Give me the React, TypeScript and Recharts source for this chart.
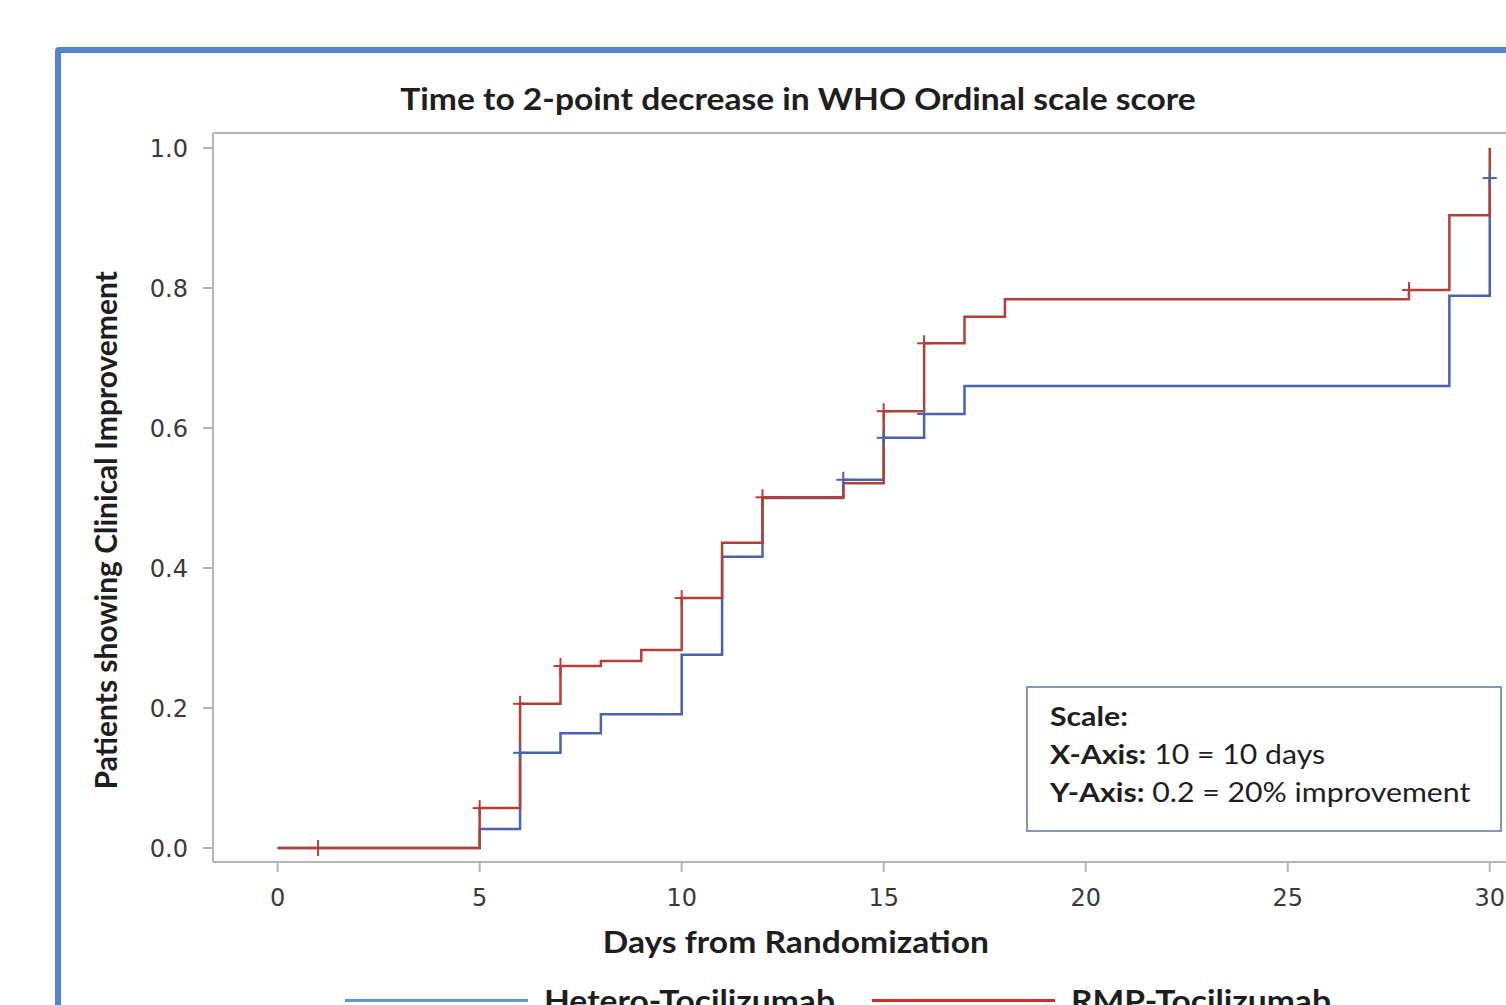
import { ComposedChart, Line, Scatter, XAxis, YAxis, Legend, Label } from "recharts";

// Kaplan-Meier style cumulative improvement
const heteroDays = [0, 5, 6, 7, 8, 10, 11, 12, 14, 15, 16, 17, 29, 30];
const heteroRates = [0, 0.027, 0.136, 0.164, 0.191, 0.276, 0.416, 0.5, 0.526, 0.586, 0.62, 0.66, 0.789, 0.957];
const heteroCensorDays = [6, 14, 15, 16, 30];

const rmpDays = [0, 5, 6, 7, 8, 9, 10, 11, 12, 14, 15, 16, 17, 18, 28, 29, 30];
const rmpRates = [0, 0.057, 0.206, 0.26, 0.267, 0.283, 0.357, 0.436, 0.501, 0.521, 0.624, 0.721, 0.759, 0.784, 0.797, 0.904, 1.0];
const rmpCensorDays = [1, 5, 6, 7, 10, 12, 15, 16, 28];

const xTicks = [0, 5, 10, 15, 20, 25, 30];
const yTicks = [0, 0.2, 0.4, 0.6, 0.8, 1.0];
const seriesNames = ["Hetero-Tocilizumab", "RMP-Tocilizumab"];

const lineColors = ["#4a63aa", "#b43f36"];
const legendColors: Record<string, string> = {
  "Hetero-Tocilizumab": "#5b9bd5",
  "RMP-Tocilizumab": "#d02c2c",
};

const toSteps = (days: number[], rates: number[]) =>
  days.map((day, i) => ({ day, rate: rates[i] }));

const rateAt = (days: number[], rates: number[], t: number) => {
  let r = rates[0];
  days.forEach((d, i) => {
    if (d <= t) r = rates[i];
  });
  return r;
};

const toCensors = (censorDays: number[], days: number[], rates: number[]) =>
  censorDays.map((day) => ({ day, rate: rateAt(days, rates, day) }));

const heteroSteps = toSteps(heteroDays, heteroRates);
const rmpSteps = toSteps(rmpDays, rmpRates);
const heteroCensors = toCensors(heteroCensorDays, heteroDays, heteroRates);
const rmpCensors = toCensors(rmpCensorDays, rmpDays, rmpRates);

const crossShape = (color: string) => (props: any) => {
  const { cx, cy } = props;
  return (
    <g stroke={color} strokeWidth={2}>
      <line x1={cx - 7} x2={cx + 7} y1={cy} y2={cy} />
      <line x1={cx} x2={cx} y1={cy - 8} y2={cy + 8} />
    </g>
  );
};

const axisGray = "#b4b4b4";
const tickStyle = { fontFamily: "DejaVu Sans", fontSize: 24, fill: "#3a3a3a" };
const labelFont = "Lato";
// the source image is stretched sideways, so horizontal text gets widened
const stretch = 1.12;

const renderLegend = (props: any) => {
  const items = (props.payload || []).filter((p: any) => p.type !== "none");
  return (
    <div style={{ display: "flex", paddingLeft: 345, fontFamily: labelFont, fontWeight: 700, fontSize: 30, lineHeight: "34px" }}>
      {items.map((entry: any) => (
        <div key={entry.value} style={{ display: "flex", alignItems: "center", width: 527 }}>
          <div style={{ width: 183, height: 3, background: legendColors[entry.value] }} />
          <span
            style={{
              marginLeft: 16,
              color: "#1e1e1e",
              display: "inline-block",
              transform: `scaleX(${stretch})`,
              transformOrigin: "left center",
            }}
          >
            {entry.value}
          </span>
        </div>
      ))}
    </div>
  );
};

const App = () => {
  return (
    <div style={{ position: "fixed", left: 0, top: 0, width: 1506, height: 1005, overflow: "hidden", background: "#fff" }}>
      <div
        style={{
          position: "absolute",
          left: 55,
          top: 47,
          width: 1600,
          height: 1100,
          border: "6px solid #5585d0",
          borderRadius: 4,
        }}
      />
      <div
        style={{
          position: "absolute",
          left: 0,
          width: 1596,
          top: 80,
          textAlign: "center",
          fontFamily: labelFont,
          fontWeight: 700,
          fontSize: 30,
          color: "#1e1e1e",
          transform: `scaleX(${stretch})`,
        }}
      >
        Time to 2-point decrease in WHO Ordinal scale score
      </div>
      <div style={{ position: "absolute", left: 0, top: 0 }}>
        <ComposedChart width={1530} height={1005} margin={{ top: 132, right: 16, bottom: 83, left: 0 }}>
          <XAxis
            dataKey="day"
            type="number"
            domain={[-1.6, 30.6]}
            ticks={xTicks}
            allowDataOverflow
            height={60}
            tick={tickStyle}
            tickSize={10}
            tickMargin={17}
            axisLine={{ stroke: axisGray, strokeWidth: 2 }}
            tickLine={{ stroke: axisGray, strokeWidth: 2 }}
          >
            <Label
              content={(p: any) => {
                const vb = p.viewBox;
                const cx = vb.x + vb.width * 0.448;
                const cy = 942;
                return (
                  <text
                    x={cx}
                    y={cy}
                    textAnchor="middle"
                    dominantBaseline="central"
                    transform={`translate(${cx} ${cy}) scale(${stretch} 1) translate(${-cx} ${-cy})`}
                    style={{ fontFamily: labelFont, fontWeight: 700, fontSize: 30, fill: "#1e1e1e" }}
                  >
                    Days from Randomization
                  </text>
                );
              }}
            />
          </XAxis>
          <XAxis
            xAxisId="top"
            orientation="top"
            type="number"
            domain={[-1.6, 30.6]}
            height={1}
            tick={false}
            tickLine={false}
            axisLine={{ stroke: axisGray, strokeWidth: 2 }}
          />
          <YAxis
            type="number"
            domain={[-0.02, 1.0214]}
            ticks={yTicks}
            allowDataOverflow
            width={213}
            tick={tickStyle}
            tickSize={10}
            tickMargin={15}
            tickFormatter={(v: number) => v.toFixed(1)}
            axisLine={{ stroke: axisGray, strokeWidth: 2 }}
            tickLine={{ stroke: axisGray, strokeWidth: 2 }}
          >
            <Label
              content={(p: any) => {
                const vb = p.viewBox;
                const cy = vb.y + vb.height * 0.545;
                return (
                  <text
                    x={105}
                    y={cy}
                    textAnchor="middle"
                    dominantBaseline="central"
                    transform={`rotate(-90, 105, ${cy})`}
                    style={{ fontFamily: labelFont, fontWeight: 700, fontSize: 30, fill: "#1e1e1e" }}
                  >
                    Patients showing Clinical Improvement
                  </text>
                );
              }}
            />
          </YAxis>
          <Line
            data={heteroSteps}
            dataKey="rate"
            name={seriesNames[0]}
            type="stepAfter"
            stroke={lineColors[0]}
            strokeWidth={2.5}
            dot={false}
            activeDot={false}
            isAnimationActive={false}
          />
          <Line
            data={rmpSteps}
            dataKey="rate"
            name={seriesNames[1]}
            type="stepAfter"
            stroke={lineColors[1]}
            strokeWidth={2.5}
            dot={false}
            activeDot={false}
            isAnimationActive={false}
          />
          <Scatter
            data={heteroCensors}
            dataKey="rate"
            legendType="none"
            shape={crossShape(lineColors[0])}
            isAnimationActive={false}
          />
          <Scatter
            data={rmpCensors}
            dataKey="rate"
            legendType="none"
            shape={crossShape(lineColors[1])}
            isAnimationActive={false}
          />
          <Legend
            layout="horizontal"
            verticalAlign="middle"
            align="center"
            content={renderLegend}
            wrapperStyle={{ top: 983, left: 0, width: 1530 }}
          />
        </ComposedChart>
      </div>
      <div
        style={{
          position: "absolute",
          left: 1026,
          top: 686,
          width: 476,
          height: 146,
          boxSizing: "border-box",
          border: "2px solid #8396b8",
          background: "#fff",
          fontFamily: labelFont,
          fontSize: 27,
          color: "#1e1e1e",
          lineHeight: "38px",
          padding: "9px 0 0 22px",
        }}
      >
        <div style={{ transform: `scaleX(${stretch})`, transformOrigin: "left center" }}>
          <div><b>Scale:</b></div>
          <div><b>X-Axis:</b> 10 = 10 days</div>
          <div><b>Y-Axis:</b> 0.2 = 20% improvement</div>
        </div>
      </div>
    </div>
  );
};

export default App;
